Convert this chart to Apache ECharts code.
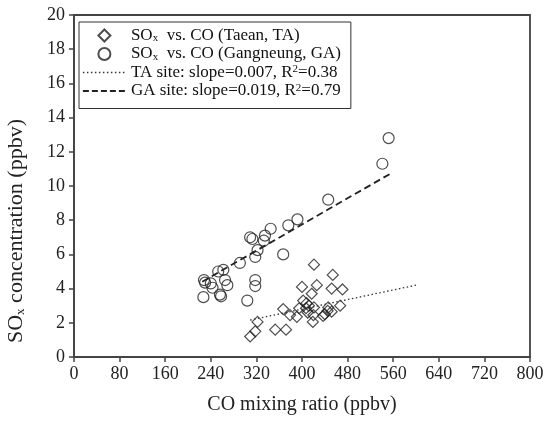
<!DOCTYPE html>
<html><head><meta charset="utf-8">
<script src="https://cdn.jsdelivr.net/npm/echarts@6/dist/echarts.min.js"></script>
<style>html,body{margin:0;padding:0;background:#fff}#c{width:552px;height:421px}</style>
</head><body><div id="c"></div>
<script>
// ---- data ----
const xTicks = [0, 80, 160, 240, 320, 400, 480, 560, 640, 720, 800];
const yTicks = [0, 2, 4, 6, 8, 10, 12, 14, 16, 18, 20];
const seriesNames = ['TA', 'GA', 'TA site', 'GA site'];
// SOx vs CO, Taean (TA)
const taPoints = [
  [421, 5.4], [454, 4.8], [400, 4.1], [426, 4.2], [452, 4.0], [471, 3.95], [417, 3.7],
  [402, 3.3], [408, 3.15], [407, 2.85], [395, 2.85], [446, 2.9], [467, 3.0], [452, 2.65],
  [367, 2.8], [379, 2.45], [391, 2.35], [420, 2.45], [419, 2.05], [437, 2.4], [322, 2.05],
  [318, 1.5], [309, 1.2], [353, 1.6], [372, 1.6], [421, 2.9], [440, 2.5], [412, 3.0],
  [410, 2.6], [445, 2.7]
];
// SOx vs CO, Gangneung (GA)
const gaPoints = [
  [552, 12.8], [541, 11.3], [446, 9.2], [392, 8.05], [376, 7.7], [345, 7.5], [335, 7.1],
  [333, 6.8], [309, 7.0], [313, 6.9], [322, 6.25], [318, 5.85], [367, 6.0], [291, 5.5],
  [262, 5.1], [253, 5.0], [318, 4.5], [318, 4.15], [269, 4.2], [265, 4.5], [256, 3.65],
  [304, 3.3], [227, 3.5], [228, 4.5], [230, 4.35], [240, 4.3], [243, 4.05], [258, 3.55]
];
// regression line end points
const taFit = [[309, 2.16], [600, 4.2]];
const gaFit = [[225, 4.4], [554, 10.7]];
const fitSlopes = ['0.007', '0.019'];
const fitR2 = ['0.38', '0.79'];

const FONT = 'Liberation Serif';
const legendText = {
  'TA': '{t|SO}{sub|x}{t|  vs. CO (Taean, TA)}',
  'GA': '{t|SO}{sub|x}{t|  vs. CO (Gangneung, GA)}',
  'TA site': '{t|TA site: slope=' + fitSlopes[0] + ', R}{sup|2}{t|=' + fitR2[0] + '}',
  'GA site': '{t|GA site: slope=' + fitSlopes[1] + ', R}{sup|2}{t|=' + fitR2[1] + '}'
};
const richStyles = {
  t: {fontFamily: FONT, fontSize: 17, color: '#111', lineHeight: 17},
  sub: {fontFamily: FONT, fontSize: 11, color: '#111', lineHeight: 11, padding: [6, 0, 0, 0], verticalAlign: 'bottom'},
  sup: {fontFamily: FONT, fontSize: 11, color: '#111', lineHeight: 11, verticalAlign: 'top'}
};
const axisColor = '#444';
const hidden = {color: 'rgba(0,0,0,0)', borderColor: 'rgba(0,0,0,0)', borderWidth: 0};

const chart = echarts.init(document.getElementById('c'), null, {renderer: 'canvas'});
chart.setOption({
  animation: false,
  backgroundColor: '#fff',
  grid: {left: 74, right: 22, top: 15, bottom: 64, containLabel: false, outerBoundsMode: 'none',
         show: true, borderColor: axisColor, borderWidth: 1.8, backgroundColor: 'transparent'},
  legend: {
    orient: 'vertical', left: 79, top: 22,
    padding: [5, 10, 9, 3],
    borderColor: '#333', borderWidth: 1,
    itemWidth: 43, itemHeight: 12, itemGap: 1.5,
    data: [
      {name: seriesNames[0], icon: 'path://M0,-1L1,0L0,1L-1,0Z'},
      {name: seriesNames[1], icon: 'circle'},
      {name: seriesNames[2], itemStyle: hidden, lineStyle: {width: 1.3, type: [1.5, 2.5], color: '#333'}},
      {name: seriesNames[3], itemStyle: hidden, lineStyle: {width: 1.8, type: [6, 3], color: '#222'}}
    ],
    formatter: function (n) { return legendText[n]; },
    textStyle: {fontFamily: FONT, fontSize: 17, color: '#111', rich: richStyles}
  },
  xAxis: {
    type: 'value', min: xTicks[0], max: xTicks[xTicks.length - 1], interval: xTicks[1] - xTicks[0],
    axisLine: {show: true, onZero: false, lineStyle: {color: axisColor, width: 1.8}},
    axisTick: {show: true, length: 5, lineStyle: {color: axisColor, width: 1.5}},
    splitLine: {show: false},
    axisLabel: {fontFamily: FONT, fontSize: 18, color: '#222', margin: 8},
    name: 'CO mixing ratio (ppbv)', nameLocation: 'middle', nameGap: 38,
    nameTextStyle: {fontFamily: FONT, fontSize: 20, color: '#222'}
  },
  yAxis: {
    type: 'value', min: yTicks[0], max: yTicks[yTicks.length - 1], interval: yTicks[1] - yTicks[0],
    axisLine: {show: true, onZero: false, lineStyle: {color: axisColor, width: 1.8}},
    axisTick: {show: true, length: 5, lineStyle: {color: axisColor, width: 1.5}},
    splitLine: {show: false},
    axisLabel: {fontFamily: FONT, fontSize: 18, color: '#222', margin: 9},
    name: 'SO{sub|x} concentration (ppbv)', nameLocation: 'middle', nameGap: 47,
    nameTextStyle: {fontFamily: FONT, fontSize: 22, color: '#222', padding: [0, 90, 0, 0],
      rich: {
        sub: {fontFamily: FONT, fontSize: 13, color: '#222', lineHeight: 13, padding: [10, 0, 0, 0], verticalAlign: 'bottom'}
      }}
  },
  series: [
    {name: seriesNames[0], type: 'scatter', data: taPoints, symbol: 'diamond', symbolSize: 11,
     itemStyle: {color: 'rgba(255,255,255,0)', borderColor: '#222', borderWidth: 1.2}},
    {name: seriesNames[1], type: 'scatter', data: gaPoints, symbol: 'circle', symbolSize: 11,
     itemStyle: {color: 'rgba(255,255,255,0)', borderColor: '#222', borderWidth: 1.2}},
    {name: seriesNames[2], type: 'line', data: taFit, symbol: 'none', silent: true, color: '#333',
     lineStyle: {color: '#333', width: 1.3, type: [1.5, 2.5]}},
    {name: seriesNames[3], type: 'line', data: gaFit, symbol: 'none', silent: true, color: '#222',
     lineStyle: {color: '#222', width: 1.8, type: [7, 4]}}
  ]
});
</script></body></html>
